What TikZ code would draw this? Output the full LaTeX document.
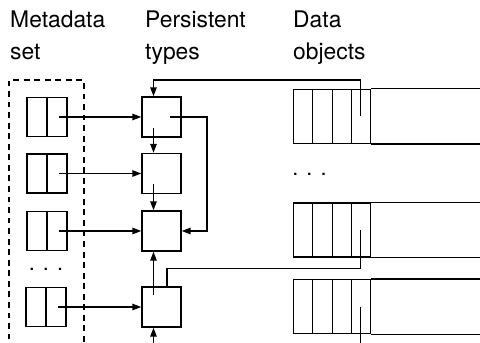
\documentclass[tikz,border=0pt]{standalone}
\usepackage{fontspec}
\setmainfont{TeX Gyre Heros}
\usetikzlibrary{arrows.meta, calc}

\begin{document}
\begin{tikzpicture}[x=0.03cm, y=-0.03cm, >={Triangle[length=7.5pt, width=5.5pt]},
    title/.style={align=left, anchor=base west, inner sep=0pt, font=\fontsize{19.5}{28}\selectfont},
    dots/.style={inner sep=0pt, anchor=base, font=\fontsize{18.5}{22}\selectfont},
    metabox/.style={draw, line width=1.3pt, minimum width=1.2cm, minimum height=1.17cm, inner sep=0pt},
    typebox/.style={draw, line width=1.3pt, minimum width=1.17cm, minimum height=1.2cm, inner sep=0pt},
    objbox/.style={draw, line width=1pt, minimum width=2.31cm, minimum height=1.62cm, inner sep=0pt, anchor=west},
    link/.style={line width=1pt}]
    \useasboundingbox (0,0) rectangle (480,343);

    % Column titles
    \node (tmeta) [title] at (10,60) {Metadata\\set};
    \node (ttype) [title] at (145,60) {Persistent\\types};
    \node (tdata) [title] at (293,60) {Data\\objects};

    % Metadata set
    \draw[line width=1pt, dash pattern=on 5pt off 4pt] (9,350) -- (9,80) -- (84,80) -- (84,350);
    \node (meta1) [metabox] at (47,117) {};
    \node (meta2) [metabox] at (47,173.5) {};
    \node (meta3) [metabox] at (47,231) {};
    \node (meta4) [metabox] at (46,307) {};
    \node (mdots) [dots] at (46,270) {. . .};
    \foreach \m in {meta1,meta2,meta3,meta4}
        \draw[line width=1.3pt] (\m.north) -- (\m.south);

    % Persistent types
    \node (type1) [typebox] at (161.5,117) {};
    \node (type2) [typebox] at (161.5,173.5) {};
    \node (type3) [typebox] at (161.5,231) {};
    \node (type4) [typebox] at (161.5,307) {};

    % Data objects
    \node (obj1) [objbox] at (293,116.5) {};
    \node (obj2) [objbox] at (293,230) {};
    \node (obj3) [objbox] at (293,306.5) {};
    \node (odots) [dots] at (309.5,176) {. . .};
    \foreach \o in {obj1,obj2,obj3} {
        \foreach \f in {0.25,0.5,0.75}
            \draw[line width=1pt] ($(\o.north west)!\f!(\o.north east)$) -- ($(\o.south west)!\f!(\o.south east)$);
        \draw[line width=1pt] (\o.north east) -- ++(115,0);
        \draw[line width=1pt] (\o.south east) -- ++(115,0);
    }
    \coordinate (p1) at ($(obj1.west)!0.86!(obj1.east)$);
    \coordinate (p2) at ($(obj2.west)!0.86!(obj2.east)$);
    \coordinate (p3) at ($(obj3.west)!0.86!(obj3.east)$);
    \coordinate (below4) at ($(type4.south)+(-8,25)$);

    % Metadata to types
    \draw[link, ->] ($(meta1.east)+(-9,0)$) -- (type1.west);
    \draw[link, ->] ($(meta2.east)+(-9,0)$) -- (type2.west);
    \draw[link, ->] ($(meta3.east)+(-9,0)$) -- (type3.west);
    \draw[link, ->] ($(meta4.east)+(-9,0)$) -- (type4.west);

    % Type links
    \draw[link, ->] ($(type1.center)+(-8,11)$) -- ($(type2.north)+(-8,0)$);
    \draw[link, ->] ($(type2.center)+(-8,11)$) -- ($(type3.north)+(-8,0)$);
    \draw[link, ->] ($(type4.center)+(-8,-12)$) -- ($(type3.south)+(-8,0)$);
    \draw[link, ->] (below4) -- ($(type4.south)+(-8,0)$);
    \draw[link, ->] ($(type1.center)+(8.5,0)$) -- ++(37,0) |- (type3.east);

    % Object pointers
    \draw[link, ->] (p1) -- ++(0,-36.5) -| ($(type1.north)+(-8,0)$);
    \draw[link] ($(type4.north)+(5.5,0)$) -- ++(0,-18) -| (p2);
    \draw[link] (p3) -- ++(0,45);
\end{tikzpicture}
\end{document}
